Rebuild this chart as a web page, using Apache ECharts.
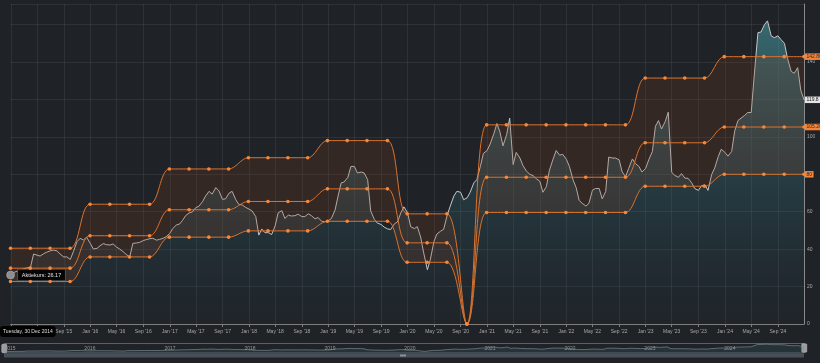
<!DOCTYPE html>
<html><head><meta charset="utf-8">
<script src="https://cdn.jsdelivr.net/npm/echarts@6/dist/echarts.min.js"></script>
<style>html,body{margin:0;padding:0;background:#1f2226;} #c{width:820px;height:363px;}</style>
</head><body><div id="c"></div>
<script>
// ---------- DATA ----------
const quarterDates = ['2014-12-30','2015-03-31','2015-06-30','2015-09-30','2015-12-31','2016-03-31','2016-06-30','2016-09-30','2016-12-30','2017-03-31','2017-06-30','2017-09-29','2017-12-29','2018-03-29','2018-06-29','2018-09-28','2018-12-28','2019-03-29','2019-06-28','2019-09-30','2019-12-30','2020-03-31','2020-06-30','2020-09-30','2020-12-30','2021-03-31','2021-06-30','2021-09-30','2021-12-30','2022-03-31','2022-06-30','2022-09-30','2022-12-30','2023-03-31','2023-06-30','2023-09-29','2023-12-29','2024-03-28','2024-06-28','2024-09-30','2024-12-30'];
const targetHigh = [40.5,40.5,40.5,40.5, 64,64,64,64, 82.86,82.86,82.86,82.86, 88.86,88.86,88.86,88.86, 98,98,98,98, 58.86,58.86,58.86, 0, 106.43,106.43,106.43,106.43,106.43,106.43,106.43,106.43, 131.43,131.43,131.43,131.43, 142.86,142.86,142.86,142.86,142.86];
const targetMid = [29.84,29.84,29.84,29.84, 47.16,47.16,47.16,47.16, 61.05,61.05,61.05,61.05, 65.47,65.47,65.47,65.47, 72.21,72.21,72.21,72.21, 43.37,43.37,43.37, 0, 78.42,78.42,78.42,78.42,78.42,78.42,78.42,78.42, 96.84,96.84,96.84,96.84, 105.26,105.26,105.26,105.26,105.26];
const targetLow = [22.68,22.68,22.68,22.68, 35.84,35.84,35.84,35.84, 46.4,46.4,46.4,46.4, 49.76,49.76,49.76,49.76, 54.88,54.88,54.88,54.88, 32.96,32.96,32.96, 0, 59.6,59.6,59.6,59.6,59.6,59.6,59.6,59.6, 73.6,73.6,73.6,73.6, 80,80,80,80,80];

// share price, 1st and 15th of each month (first value = 30 Dec 2014)
const p2015 = [26.17,27.6,28.3,29,29.5,30,30.4,37.4,36.8,36.3,37.6,38.4,39.1,39.5,39.1,37.4,35.8,35.9,34.5,38.6,44,45.8,44.9,46.4];
const p2016 = [43.1,40.1,40.4,41.8,43,42.4,42.2,42.8,41.1,40.1,38.6,37.1,35.9,43.1,43.3,43.6,44.6,45.1,45.6,45.8,44.8,45.2,45.8,46.6];
const p2017 = [48.4,51,53,53.4,55.4,57.9,59.4,59.9,62.2,62.9,65.4,68.4,70.9,69.4,72.9,71.2,66.6,66.9,69.9,70.9,66.4,63.9,63.6,62.4];
const p2018 = [61.4,60.4,57.4,47.5,50.8,48.8,48.8,47.8,52.4,59.4,60.6,56.4,58.2,57.7,57.9,58.7,57.4,57.4,58.9,57.9,56.2,56.9,54.9,54.6];
const p2019 = [55.2,56.4,60.9,68.4,75.4,75.9,78.4,84.2,84.2,80.7,81.2,80.7,77.2,60.4,55.9,53.9,53.2,51.8,50.8,50.5,53.5,54.5,59.4,62.6];
const p2020 = [59.4,52,51,52,46.5,38,29,34.6,44,48.1,49.6,50.6,58,62.9,68.4,70.9,70.4,66.4,67.4,70.4,75.4,77.2,84.2,91.2];
const p2021 = [92.7,96.2,101.7,107.1,102.7,95.2,101.2,110,85.2,91.7,88.7,84.7,81.7,80.2,79.2,77.7,76.2,70.4,73.4,82.2,88.2,92.7,90.2,90.7];
const p2022 = [88,84.2,76.9,72.9,66,64.5,63,64.5,71.5,72.4,72.4,66.9,70.8,89.2,88.7,88.7,87.7,81.2,78.8,83.2,88.2,85.7,84.2,81.2];
const p2023 = [83.2,87.7,92.2,105.7,108.7,104.2,108.2,113.2,81,79.4,78.4,80.4,77.9,77.9,75.4,72.4,71.4,73.9,74.4,71.4,79.9,83.4,89.4,93.4];
const p2024 = [91.7,89.7,92.2,103.2,108.7,110,111.5,113,113,133,155.7,156,160,162,154,153,154,152,150,142,135,134,137,125];
const lastPriceDate = '2024-12-30';
const lastPrice = 119.8;

const monthNames = ['Jan','Feb','Mar','Apr','May','Jun','Jul','Aug','Sep','Oct','Nov','Dec'];
const dayNames = ['Sunday','Monday','Tuesday','Wednesday','Thursday','Friday','Saturday'];

// ---------- BUILD ----------
const pad = n => String(n).padStart(2,'0');
const parseD = s => { const [y,m,d] = s.split('-').map(Number); return new Date(y, m-1, d); };
const ts = s => parseD(s).getTime();
const priceValues = [].concat(p2015,p2016,p2017,p2018,p2019,p2020,p2021,p2022,p2023,p2024,[lastPrice]);
const priceDates = [];
for (let y = 2015; y <= 2024; y++) for (let m = 1; m <= 12; m++) for (const d of [1,15]) priceDates.push(y + '-' + pad(m) + '-' + pad(d));
priceDates[0] = '2014-12-30';
priceDates.push(lastPriceDate);
const pricePairs = priceDates.map((d,i) => [ts(d), priceValues[i]]);
const qPairs = arr => quarterDates.map((d,i) => [ts(d), arr[i]]);
const bandDiff = quarterDates.map((d,i) => [ts(d), +(targetHigh[i]-targetLow[i]).toFixed(2)]);

const xMin = ts(priceDates[0]);
const xMax = ts(lastPriceDate);
const tickVals = [];
for (let y = 2015; y <= 2024; y++) for (const m of [0,4,8]) tickVals.push(new Date(y,m,1).getTime());
const yearVals = [];
for (let y = 2015; y <= 2024; y++) yearVals.push(new Date(y,0,1).getTime());

const FONT = '"Liberation Sans", Arial, sans-serif';
const ORANGE_LINE = '#d9732e';
const ORANGE_DOT = '#f7883a';
const d0 = parseD(priceDates[0]);
const firstDateText = dayNames[d0.getDay()] + ', ' + d0.getDate() + ' ' + monthNames[d0.getMonth()] + ' ' + d0.getFullYear();

function targetSeries(name, arr) {
  return {
    name, type: 'line', xAxisIndex: 0, data: qPairs(arr), smooth: 0.35, z: 5,
    symbol: 'circle', symbolSize: 3.6, showSymbol: true,
    lineStyle: { color: ORANGE_LINE, width: 1 },
    itemStyle: { color: ORANGE_DOT, borderWidth: 0 },
    endLabel: { show: true, formatter: p => String(p.value[1]), backgroundColor: '#f4843a', color: '#2a2a2a',
      fontSize: 5, fontFamily: FONT, padding: [1, 1.5, 0.5, 1.5], distance: 1 },
    silent: true
  };
}

const chart = echarts.init(document.getElementById('c'));
chart.setOption({
  animation: false,
  backgroundColor: '#1f2226',
  textStyle: { fontFamily: FONT },
  grid: [
    { left: 4, right: 16, top: 4, height: 320 },
    { left: 4, right: 16, top: 343.5, height: 9.5, show: true, borderColor: '#5b5f66', borderWidth: 1, backgroundColor: 'transparent' }
  ],
  xAxis: [
    { type: 'time', gridIndex: 0, position: 'top', min: xMin, max: xMax, show: false },
    { type: 'value', gridIndex: 0, position: 'bottom', min: xMin, max: xMax, scale: true,
      axisLine: { show: true, onZero: false, lineStyle: { color: '#7d7d7d', width: 1 } },
      axisTick: { show: true, length: 3, customValues: tickVals, lineStyle: { color: '#7d7d7d' } },
      axisLabel: { customValues: tickVals, color: '#a8a8a8', fontSize: 5, margin: 5,
        formatter: v => { const d = new Date(v); return monthNames[d.getMonth()] + " '" + String(d.getFullYear()).slice(2); } },
      splitLine: { show: true, lineStyle: { color: 'rgba(255,255,255,0.07)', width: 1 } },
      axisPointer: { show: true, value: xMin, status: 'show', snap: false, triggerTooltip: false,
        lineStyle: { opacity: 0 },
        label: { show: true, formatter: () => firstDateText, backgroundColor: 'rgba(0,0,0,0.92)', color: '#dcdcdc',
          fontSize: 5, padding: [3, 3], margin: 2 } }
    },
    { type: 'value', gridIndex: 1, min: xMin, max: xMax, scale: true,
      axisLine: { show: false }, axisTick: { show: false, customValues: yearVals },
      axisLabel: { customValues: yearVals, inside: true, margin: 2, color: '#9a9a9a', fontSize: 5, align: 'left',
        formatter: v => String(new Date(v).getFullYear()) },
      splitLine: { show: false }
    }
  ],
  yAxis: [
    { type: 'value', gridIndex: 0, position: 'right', min: 0, max: 171, interval: 20,
      axisLine: { show: true, lineStyle: { color: '#8a8a8a', width: 1 } },
      axisTick: { show: false },
      splitLine: { show: true, lineStyle: { color: 'rgba(255,255,255,0.07)', width: 1 } },
      axisLabel: { color: '#a8a8a8', fontSize: 5, margin: 3, padding: [0, 0, 4, 0], showMaxLabel: false,
        formatter: v => (v % 20 === 0 && v < 160) ? String(v) : '' } },
    { type: 'value', gridIndex: 1, min: 0, max: 175, show: false }
  ],
  series: [
    { name: 'Aktiekurs', type: 'line', xAxisIndex: 0, data: pricePairs, symbol: 'none', z: 2,
      lineStyle: { color: '#c6c6c6', width: 1 },
      areaStyle: { color: new echarts.graphic.LinearGradient(0, 0, 0, 1, [
        { offset: 0, color: 'rgba(78,168,178,0.75)' },
        { offset: 1, color: 'rgba(40,90,110,0.06)' } ]) },
      endLabel: { show: true, formatter: p => String(p.value[1]), backgroundColor: '#e4e4e4', color: '#222',
        fontSize: 5, fontFamily: FONT, padding: [1, 1.5, 0.5, 1.5], distance: 1 },
      markPoint: { symbol: 'circle', symbolSize: 8, silent: true,
        itemStyle: { color: '#8e8e8e', borderColor: '#b5b5b5', borderWidth: 0.5 },
        data: [{ coord: [pricePairs[0][0], priceValues[0]] }],
        label: { show: true, position: 'right', distance: 3, formatter: 'Aktiekurs: ' + priceValues[0],
          backgroundColor: 'rgba(0,0,0,0.88)', borderColor: '#6a6a6a', borderWidth: 0.6, color: '#e2e2e2',
          fontSize: 5.5, padding: [2.5, 4] } },
      silent: true },
    { name: 'bandBase', type: 'line', xAxisIndex: 0, stack: 'band', data: qPairs(targetLow), smooth: 0.35, symbol: 'none',
      lineStyle: { opacity: 0 }, z: 3, silent: true },
    { name: 'band', type: 'line', xAxisIndex: 0, stack: 'band', data: bandDiff, smooth: 0.35, symbol: 'none',
      lineStyle: { opacity: 0 }, areaStyle: { color: 'rgba(125,62,35,0.32)' }, z: 3, silent: true },
    targetSeries('Kursmål høj', targetHigh),
    targetSeries('Kursmål mid', targetMid),
    targetSeries('Kursmål lav', targetLow),
    { name: 'nav', type: 'line', xAxisIndex: 2, yAxisIndex: 1, data: pricePairs, symbol: 'none', silent: true,
      lineStyle: { color: '#8b98a3', width: 0.6 },
      areaStyle: { color: 'rgba(70,130,140,0.25)' } }
  ],
  graphic: [
    { type: 'rect', left: 4, top: 353.5, shape: { width: 800, height: 4 }, style: { fill: '#4a4e57' }, silent: true },
    { type: 'rect', left: 400, top: 354.5, shape: { width: 6, height: 2 }, style: { fill: '#8a8f98' }, silent: true },
    { type: 'rect', left: 1.5, top: 344, shape: { width: 5, height: 8.5, r: 1 }, style: { fill: '#9c9c9c', stroke: '#cfcfcf', lineWidth: 0.5 }, silent: true },
    { type: 'rect', left: 801.5, top: 343.5, shape: { width: 5, height: 8.5, r: 1 }, style: { fill: '#9c9c9c', stroke: '#cfcfcf', lineWidth: 0.5 }, silent: true }
  ]
});
</script></body></html>
